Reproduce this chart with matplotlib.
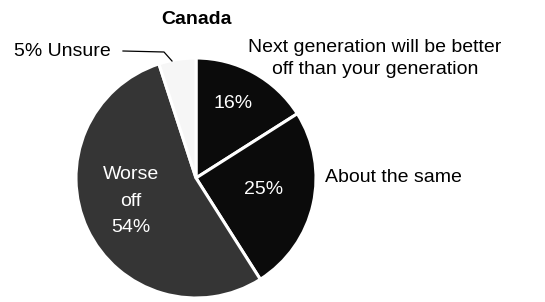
import matplotlib
matplotlib.use('Agg')
from matplotlib import pyplot as plt

#----------------------------Data----------------------------------------------#
title = 'Canada'
shares = [16, 25, 54, 5]
slice_names = ['Better off', 'About the same', 'Worse off', 'Unsure']
inner_labels = ['16%', '25%', 'Worse\noff\n54%', '']
slice_colors = ['#0b0b0b', '#0b0b0b', '#353535', '#f6f6f6']

plt.rcParams['font.family'] = ['Liberation Sans', 'DejaVu Sans']

#----------------------------Plotting------------------------------------------#
W, H = 545, 302
fig = plt.figure(figsize=(W / 100, H / 100), dpi=100)
fig.patch.set_facecolor('white')

# pie centre (196,178) px from top-left, radius 120 px
cx, cy, r = 196, 178, 120
ax = fig.add_axes([(cx - r) / W, (H - cy - r) / H, 2 * r / W, 2 * r / H])
wedges, _ = ax.pie(shares, colors=slice_colors, startangle=90, counterclock=False,
                   radius=1.0, wedgeprops=dict(edgecolor='white', linewidth=2.2))
ax.set_xlim(-1, 1)
ax.set_ylim(-1, 1)
ax.set_aspect('equal')
ax.axis('off')

def px(x, y):
    return x / W, 1 - y / H

fs = 14
# labels inside slices
fig.text(*px(233, 103), inner_labels[0], color='white', fontsize=fs,
         ha='center', va='center')
fig.text(*px(264, 189), inner_labels[1], color='white', fontsize=fs,
         ha='center', va='center')
fig.text(*px(131, 201), inner_labels[2], color='white', fontsize=fs,
         ha='center', va='center', linespacing=1.7)

# outside labels
fig.text(*px(196, 19), title, fontsize=14, fontweight='bold', ha='center', va='center')
fig.text(*px(14, 52), '5% Unsure', fontsize=fs, ha='left', va='center')
fig.text(*px(375, 58.5), 'Next generation will be better\noff than your generation',
         fontsize=fs, ha='center', va='center', linespacing=1.35)
fig.text(*px(325, 178), 'About the same', fontsize=fs, ha='left', va='center')

# leader line for Unsure
lx = [123 / W, 164 / W, 172 / W]
ly = [1 - 51 / H, 1 - 52 / H, 1 - 61 / H]
fig.add_artist(plt.Line2D(lx, ly, color='black', linewidth=0.9))

fig.savefig('out.png', dpi=100)
